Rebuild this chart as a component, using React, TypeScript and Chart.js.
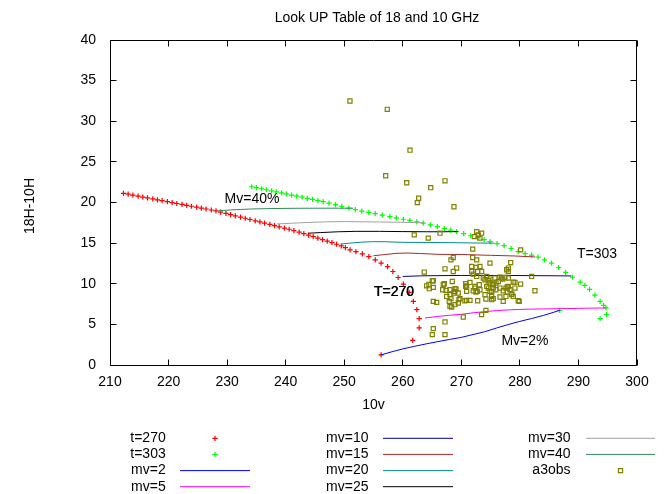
import React, { useEffect, useRef } from 'react';
import { Chart, registerables } from 'chart.js';

Chart.register(...registerables);

const FONT = "'Liberation Sans', Arial, Helvetica, sans-serif";

const chartTitle = 'Look UP Table of 18 and 10 GHz';
const xTitle = '10v';
const yTitle = '18H-10H';

const xTicks = [210, 220, 230, 240, 250, 260, 270, 280, 290, 300];
const yTicks = [0, 5, 10, 15, 20, 25, 30, 35, 40];

// T = 270 K curve
const t270X = [212.3, 213.1, 213.9, 214.8, 215.6, 216.4, 217.3, 218.1, 218.9, 219.8, 220.6, 221.4, 222.3, 223.1, 223.9, 224.8, 225.6, 226.4, 227.3, 228.1, 228.9, 229.8, 230.6, 231.4, 232.3, 233.1, 233.9, 234.8, 235.6, 236.4, 237.3, 238.1, 238.9, 239.8, 240.6, 241.4, 242.3, 243.1, 243.9, 244.7, 245.5, 246.3, 247.1, 247.9, 248.7, 249.5, 250.2, 251.0, 252.0, 253.1, 254.2, 255.3, 256.3, 257.4, 258.3, 259.2, 260.1, 261.1, 261.8, 262.4, 262.8, 262.8, 261.7, 256.3];
const t270Y = [21.13, 21.02, 20.91, 20.78, 20.67, 20.57, 20.44, 20.33, 20.22, 20.10, 19.99, 19.88, 19.76, 19.65, 19.54, 19.42, 19.31, 19.20, 19.08, 18.96, 18.82, 18.65, 18.51, 18.36, 18.20, 18.06, 17.91, 17.75, 17.61, 17.46, 17.30, 17.16, 17.01, 16.85, 16.71, 16.55, 16.35, 16.16, 15.98, 15.80, 15.61, 15.43, 15.24, 15.05, 14.86, 14.66, 14.45, 14.17, 13.96, 13.68, 13.35, 12.94, 12.54, 12.12, 11.51, 10.77, 9.96, 8.93, 7.83, 6.81, 5.71, 4.56, 3.04, 1.25];

// T = 303 K curve
const t303X = [234.2, 235.0, 235.9, 236.7, 237.6, 238.4, 239.3, 240.1, 241.0, 241.9, 242.8, 243.7, 244.6, 245.5, 246.4, 247.4, 248.5, 249.6, 250.8, 251.9, 253.0, 254.2, 255.3, 256.5, 257.8, 258.9, 260.1, 261.2, 262.4, 263.5, 264.7, 265.9, 267.1, 268.2, 269.2, 270.4, 271.6, 272.8, 273.9, 274.9, 276.1, 277.3, 278.5, 279.7, 280.9, 282.0, 283.1, 284.2, 285.4, 286.6, 287.8, 289.0, 290.3, 291.1, 291.9, 292.8, 293.7, 294.3, 294.7, 294.8, 293.7, 286.8];
const t303Y = [21.94, 21.82, 21.69, 21.57, 21.44, 21.32, 21.19, 21.06, 20.92, 20.78, 20.65, 20.51, 20.38, 20.24, 20.10, 19.92, 19.73, 19.53, 19.32, 19.12, 18.95, 18.78, 18.62, 18.44, 18.26, 18.11, 17.94, 17.79, 17.62, 17.45, 17.24, 17.02, 16.80, 16.61, 16.42, 16.17, 15.91, 15.65, 15.42, 15.19, 14.93, 14.69, 14.34, 13.96, 13.72, 13.52, 13.28, 12.95, 12.54, 12.00, 11.39, 10.80, 10.21, 9.80, 9.30, 8.60, 7.83, 7.35, 7.02, 6.20, 5.71, 6.72];

// constant Mv lines
const mv2X = [256.3, 258, 260, 262, 264, 266, 268, 270, 272, 274, 276, 278, 280, 282, 284, 286.8];
const mv2Y = [1.25, 1.6, 1.98, 2.3, 2.6, 2.88, 3.15, 3.4, 3.75, 4.1, 4.55, 4.98, 5.37, 5.72, 6.1, 6.72];
const mv5X = [263.8, 266, 268, 270, 272, 274, 276, 278, 280, 282, 284, 286, 288, 290, 292, 294.7];
const mv5Y = [5.79, 5.98, 6.12, 6.24, 6.42, 6.57, 6.69, 6.78, 6.84, 6.88, 6.9, 6.92, 6.95, 6.97, 7.0, 7.02];
const mv10X = [260.0, 263, 266, 270, 274, 278, 282, 286, 288.8];
const mv10Y = [10.9, 10.97, 11.0, 11.02, 11.02, 11.02, 11.0, 10.98, 10.96];
const mv15X = [255.0, 257, 259, 261, 263, 266, 270, 275, 279, 282.6];
const mv15Y = [13.45, 13.6, 13.75, 13.78, 13.72, 13.62, 13.6, 13.5, 13.42, 13.3];
const mv20X = [249.6, 251, 253, 255, 257, 260, 264, 268, 272, 275.6];
const mv20Y = [14.9, 15.0, 15.12, 15.18, 15.17, 15.1, 15.08, 15.06, 15.02, 15.0];
const mv25X = [243.9, 246, 249, 252, 256, 260, 264, 267, 269.4];
const mv25Y = [16.22, 16.3, 16.4, 16.45, 16.45, 16.42, 16.4, 16.4, 16.42];
const mv30X = [238.5, 241, 244, 247, 250, 253, 256, 260, 263.5];
const mv30Y = [17.36, 17.45, 17.55, 17.62, 17.65, 17.63, 17.6, 17.56, 17.5];
const mv40X = [228.5, 231, 234, 238, 242, 246, 249, 251.5];
const mv40Y = [18.99, 19.1, 19.2, 19.26, 19.29, 19.3, 19.3, 19.3];

// a3obs observations
const obsX = [250.98, 257.35, 261.23, 257.08, 260.67, 264.77, 267.21, 262.72, 262.48, 268.74, 261.96, 264.35, 266.35, 272.62, 272.21, 272.89, 273.47, 273.18, 271.94, 280.13, 268.62, 268.23, 271.94, 272.62, 274.89, 278.43, 267.21, 269.20, 268.62, 271.77, 272.50, 271.77, 272.79, 272.04, 272.62, 263.67, 278.02, 277.74, 278.02, 273.18, 273.47, 282.01, 274.33, 274.60, 274.04, 267.09, 268.45, 270.74, 278.87, 280.13, 275.74, 276.31, 276.89, 277.45, 275.92, 275.45, 273.75, 274.89, 276.60, 277.06, 278.02, 279.16, 265.21, 266.92, 271.48, 274.89, 275.35, 264.08, 264.53, 265.21, 270.91, 272.33, 273.06, 273.18, 272.72, 272.04, 274.60, 274.89, 275.92, 276.60, 277.62, 278.31, 277.85, 279.16, 267.38, 266.81, 268.91, 269.48, 267.50, 268.06, 269.77, 270.91, 271.48, 272.79, 274.20, 275.18, 275.45, 276.60, 277.62, 278.60, 278.87, 279.72, 282.57, 265.21, 265.79, 267.94, 268.35, 268.91, 269.48, 274.20, 273.47, 270.33, 267.21, 265.21, 265.04, 267.21, 268.91, 270.74, 270.91, 272.33, 272.50, 268.06, 269.60, 270.62, 274.33, 275.18, 275.45, 278.02, 277.16, 277.85, 274.04, 275.18, 277.16, 278.60, 279.89, 265.04, 264.47, 268.06, 269.09, 268.74, 268.23];
const obsY = [32.49, 31.47, 26.44, 23.29, 22.43, 21.82, 22.67, 20.52, 19.98, 19.48, 16.01, 15.61, 16.22, 16.42, 15.80, 16.01, 16.22, 15.61, 14.26, 14.17, 13.23, 12.94, 13.23, 12.94, 12.54, 12.61, 11.84, 11.93, 11.51, 12.12, 12.00, 11.51, 11.51, 11.19, 10.90, 11.44, 11.93, 11.72, 11.51, 12.12, 11.51, 10.90, 10.90, 10.37, 10.49, 10.00, 10.28, 10.00, 10.21, 9.96, 10.70, 10.28, 10.70, 10.77, 10.09, 9.96, 10.70, 10.58, 10.82, 10.58, 10.70, 10.16, 10.37, 9.88, 10.16, 10.09, 9.88, 9.75, 9.39, 9.55, 9.75, 9.67, 9.88, 9.26, 9.06, 9.14, 9.47, 9.06, 9.26, 9.47, 9.47, 9.26, 9.60, 9.47, 9.18, 9.26, 9.06, 8.86, 8.44, 8.65, 8.16, 7.95, 7.95, 7.91, 8.12, 8.44, 8.16, 8.37, 8.44, 8.65, 8.44, 7.91, 9.14, 7.83, 7.71, 7.83, 7.14, 7.42, 7.63, 6.72, 6.20, 5.91, 5.30, 4.48, 3.74, 3.74, 9.39, 9.67, 9.06, 9.47, 8.98, 7.21, 8.04, 7.91, 9.67, 9.06, 9.47, 9.67, 9.14, 8.98, 8.65, 8.04, 7.83, 8.74, 7.83, 10.37, 9.91, 9.26, 9.35, 8.86, 8.16];

// in-plot annotations
const noteText = ['Mv=40%', 'T=270', 'T=303', 'Mv=2%'];
const noteX = [234.25, 258.45, 293.16, 280.87];
const noteY = [20.43, 8.96, 13.68, 2.94];

const pts = (xs: number[], ys: number[]) => xs.map((x, i) => ({ x, y: ys[i] }));

const lineSets = [
  { label: 'mv=2', xs: mv2X, ys: mv2Y, color: '#0000ff' },
  { label: 'mv=5', xs: mv5X, ys: mv5Y, color: '#ff00ff' },
  { label: 'mv=10', xs: mv10X, ys: mv10Y, color: '#000090' },
  { label: 'mv=15', xs: mv15X, ys: mv15Y, color: '#a52a2a' },
  { label: 'mv=20', xs: mv20X, ys: mv20Y, color: '#008b8b' },
  { label: 'mv=25', xs: mv25X, ys: mv25Y, color: '#000000' },
  { label: 'mv=30', xs: mv30X, ys: mv30Y, color: '#a0a0a0' },
  { label: 'mv=40', xs: mv40X, ys: mv40Y, color: '#2e8b57' },
];

const gnuPlugin = {
  id: 'gnuDecor',
  afterDraw(chart: any) {
    const { ctx, chartArea: a, scales } = chart;
    const xs = scales.x;
    const ys = scales.y;
    ctx.save();
    ctx.strokeStyle = '#000';
    ctx.lineWidth = 1;
    const L = Math.floor(a.left) + 0.5;
    const R = Math.floor(a.right) - 0.5;
    const T = Math.floor(a.top) + 0.5;
    const B = Math.floor(a.bottom) + 0.5;
    ctx.beginPath();
    ctx.rect(L, T, R - L, B - T);
    ctx.stroke();
    const tl = 6;
    ctx.beginPath();
    xs.ticks.forEach((t: any) => {
      const p = Math.floor(xs.getPixelForValue(t.value)) + 0.5;
      ctx.moveTo(p, B); ctx.lineTo(p, B - tl);
      ctx.moveTo(p, T); ctx.lineTo(p, T + tl);
    });
    ys.ticks.forEach((t: any) => {
      const p = Math.floor(ys.getPixelForValue(t.value)) + 0.5;
      ctx.moveTo(L, p); ctx.lineTo(L + tl, p);
      ctx.moveTo(R, p); ctx.lineTo(R - tl, p);
    });
    ctx.stroke();

    ctx.fillStyle = '#000';
    ctx.font = `14px ${FONT}`;
    ctx.textAlign = 'center';
    ctx.textBaseline = 'middle';
    ctx.fillText(chartTitle, 377, 18);
    ctx.fillText(xTitle, (a.left + a.right) / 2, 405);
    ctx.save();
    ctx.translate(30.5, 206);
    ctx.rotate(-Math.PI / 2);
    ctx.fillText(yTitle, 0, 0);
    ctx.restore();

    noteText.forEach((txt, i) => {
      const px = xs.getPixelForValue(noteX[i]);
      const py = ys.getPixelForValue(noteY[i]);
      ctx.fillText(txt, px, py);
      if (txt === 'T=270') ctx.fillText(txt, px + 0.6, py);
    });

    // legend (gnuplot style, three columns below the plot)
    const colText = [165.7, 368.5, 570.5];
    const colSample = [[180, 250], [383, 453], [586, 655]];
    const rowY = [438.3, 454.4, 470.6, 486.7];
    chart.data.datasets.forEach((ds: any, i: number) => {
      const c = Math.floor(i / 4);
      const r = i % 4;
      const y = rowY[r];
      ctx.fillStyle = '#000';
      ctx.textAlign = 'right';
      ctx.fillText(ds.label, colText[c], y);
      const [s0, s1] = colSample[c];
      const mid = (s0 + s1) / 2;
      ctx.strokeStyle = ds.borderColor;
      ctx.lineWidth = ds.borderWidth;
      ctx.beginPath();
      if (ds.showLine) {
        ctx.moveTo(s0, y); ctx.lineTo(s1, y);
      } else if (ds.pointStyle === 'cross') {
        const rr = ds.pointRadius;
        ctx.moveTo(mid - rr, y); ctx.lineTo(mid + rr, y);
        ctx.moveTo(mid, y - rr); ctx.lineTo(mid, y + rr);
      } else {
        const h = ds.pointRadius * Math.SQRT1_2;
        ctx.rect(mid - h, y - h, 2 * h, 2 * h);
      }
      ctx.stroke();
    });
    ctx.restore();
  },
};

export default function App() {
  const ref = useRef<HTMLCanvasElement>(null);
  useEffect(() => {
    document.body.style.margin = '0';
    Chart.defaults.font.family = FONT;
    Chart.defaults.color = '#000';
    const datasets: any[] = [
      {
        label: 't=270', data: pts(t270X, t270Y), showLine: false, pointStyle: 'cross',
        pointRadius: 2.6, borderColor: '#ff0000', backgroundColor: '#ff0000', borderWidth: 1.2,
      },
      {
        label: 't=303', data: pts(t303X, t303Y), showLine: false, pointStyle: 'cross',
        pointRadius: 2.6, borderColor: '#00ff00', backgroundColor: '#00ff00', borderWidth: 1.2,
      },
      ...lineSets.map((l) => ({
        label: l.label, data: pts(l.xs, l.ys), showLine: true, pointRadius: 0,
        borderColor: l.color, backgroundColor: l.color, borderWidth: 1, tension: 0, fill: false,
      })),
      {
        label: 'a3obs', data: pts(obsX, obsY), showLine: false, pointStyle: 'rect',
        pointRadius: 2.9, borderColor: '#808000', backgroundColor: 'rgba(0,0,0,0)', borderWidth: 1.2,
      },
    ];
    const n = datasets.length;
    datasets.forEach((d, i) => { d.order = n - i; });

    const chart = new Chart(ref.current as HTMLCanvasElement, {
      type: 'scatter',
      data: { datasets },
      plugins: [gnuPlugin],
      options: {
        responsive: false,
        animation: false,
        devicePixelRatio: 1,
        events: [],
        layout: { padding: { top: 40, right: 30, left: 0, bottom: 0 } },
        plugins: { legend: { display: false }, title: { display: false }, tooltip: { enabled: false } },
        scales: {
          x: {
            type: 'linear', min: 210, max: 300,
            afterBuildTicks: (s: any) => { s.ticks = xTicks.map((v) => ({ value: v })); },
            afterFit: (s: any) => { s.height = 129; },
            ticks: { font: { size: 14, family: FONT }, color: '#000', padding: 9, autoSkip: false, maxRotation: 0 },
            grid: { display: false, drawTicks: false },
            border: { display: false },
          },
          y: {
            type: 'linear', min: 0, max: 40,
            afterBuildTicks: (s: any) => { s.ticks = yTicks.map((v) => ({ value: v })); },
            afterFit: (s: any) => { s.width = 110; },
            ticks: { font: { size: 14, family: FONT }, color: '#000', padding: 14, autoSkip: false },
            grid: { display: false, drawTicks: false },
            border: { display: false },
          },
        },
      } as any,
    });
    return () => chart.destroy();
  }, []);
  return <canvas ref={ref} width={667} height={494} style={{ display: 'block', width: 667, height: 494 }} />;
}
